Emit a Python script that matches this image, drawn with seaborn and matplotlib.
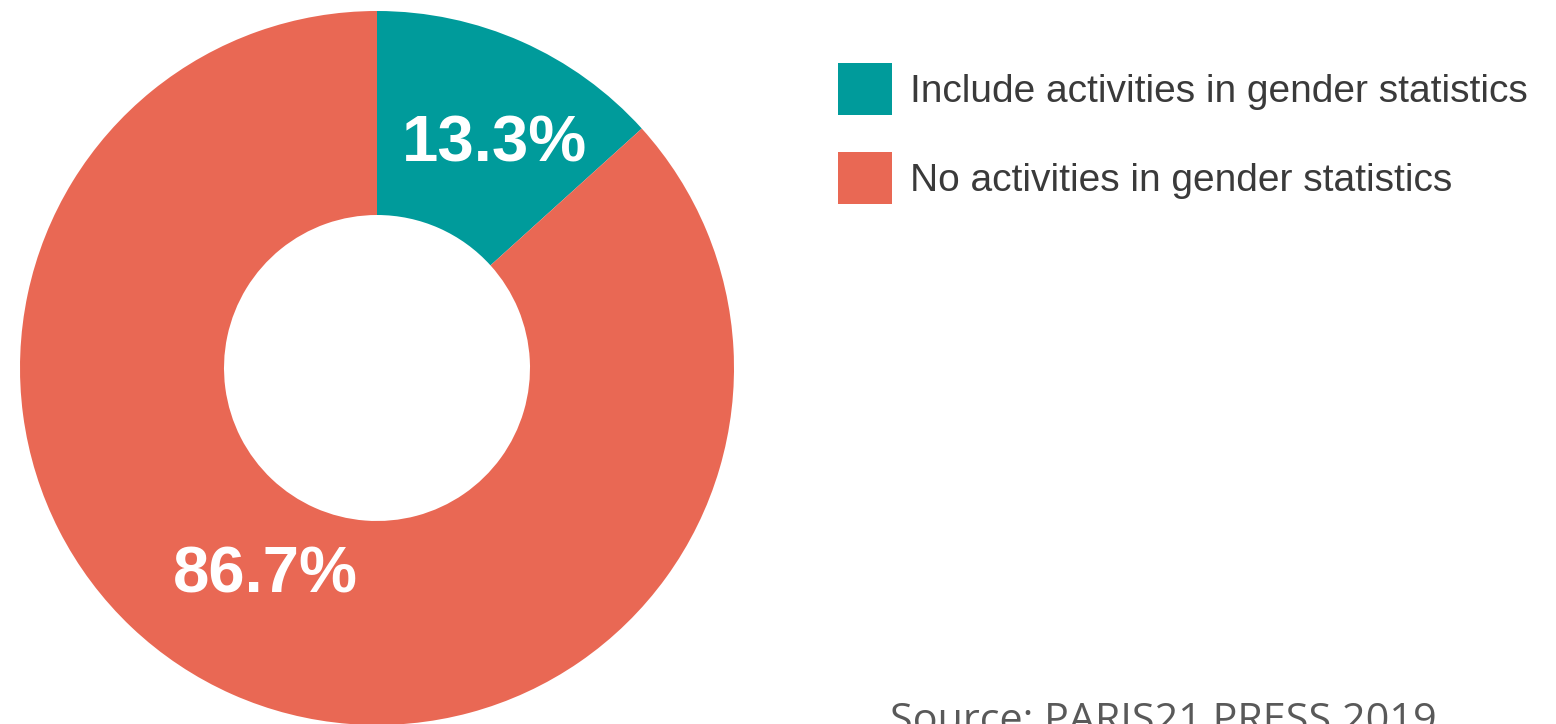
import matplotlib
matplotlib.use("Agg")
import matplotlib.pyplot as plt
import seaborn as sns

categories = ["Include activities in gender statistics", "No activities in gender statistics"]
values = [13.3, 86.7]
labels = ["13.3%", "86.7%"]
colors = ["#009B9B", "#E96854"]
source = "Source: PARIS21 PRESS 2019"

sns.set_theme(style="white")
plt.rcParams['font.family'] = ['Liberation Sans Narrow', 'Liberation Sans', 'DejaVu Sans']

W, H = 1556, 724
fig = plt.figure(figsize=(W / 100, H / 100), dpi=100)
fig.patch.set_facecolor("white")

cx, cy, R = 377, 368, 357
ax = fig.add_axes([(cx - R) / W, (H - cy - R) / H, 2 * R / W, 2 * R / H])
wedges, _ = ax.pie(values, colors=colors, startangle=90, counterclock=False,
                   radius=1.0, wedgeprops=dict(width=1 - 153 / 357, linewidth=0))
ax.set_xlim(-1, 1)
ax.set_ylim(-1, 1)
ax.axis("off")

label_pos = [(0.328, 0.625), (-0.314, -0.580)]
for (x, y), t in zip(label_pos, labels):
    ax.text(x, y, t, color="white", fontsize=47, fontweight="bold",
            ha="center", va="center", family=['Liberation Sans Narrow', 'Liberation Sans'])

leg = fig.legend(wedges, categories, loc="upper left",
                 bbox_to_anchor=(838 / W, 1 - 63 / H), frameon=False,
                 fontsize=28, handlelength=1.39, handleheight=1.68,
                 handletextpad=0.45, labelspacing=0.95, borderpad=0, borderaxespad=0)
for t in leg.get_texts():
    t.set_color("#3a3a3a")

fig.text(890 / W, 1 - 701 / H, source, fontsize=29.8, color="#595959",
         ha="left", va="top", family=["Open Sans", "DejaVu Sans"])

fig.savefig("out.png", dpi=100, facecolor="white")
